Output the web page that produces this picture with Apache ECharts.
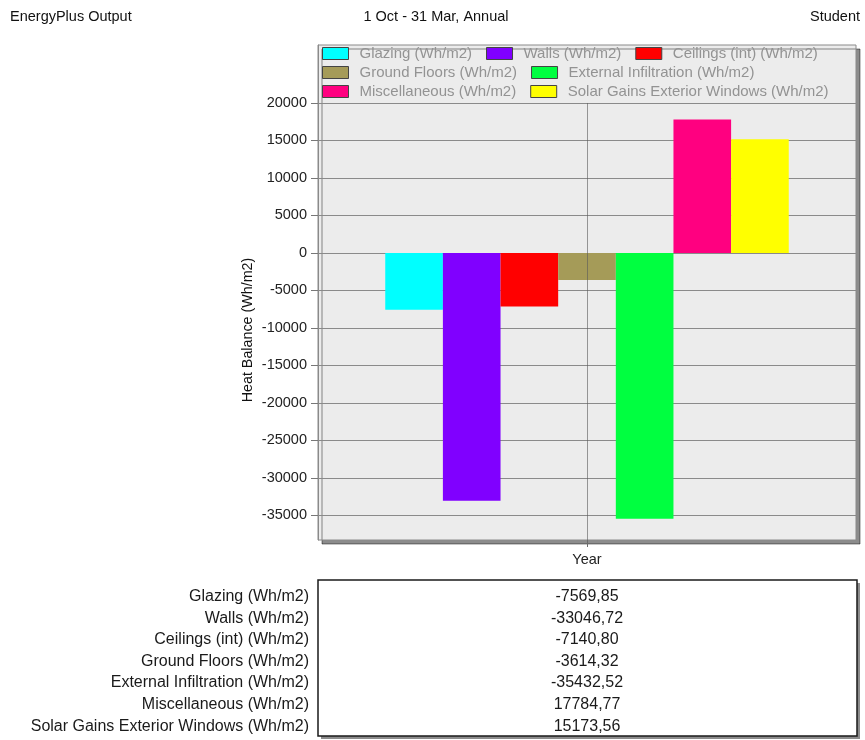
<!DOCTYPE html>
<html>
<head>
<meta charset="utf-8">
<script src="https://cdn.jsdelivr.net/npm/echarts@6/dist/echarts.min.js"></script>
<style>
  html, body { margin: 0; padding: 0; background: #ffffff; }
  #chart { width: 865px; height: 740px; }
</style>
</head>
<body>
<div id="chart"></div>
<script>
// Heat balance components, 1 Oct - 31 Mar
const categories = ['Year'];
const seriesNames = [
  'Glazing (Wh/m2)',
  'Walls (Wh/m2)',
  'Ceilings (int) (Wh/m2)',
  'Ground Floors (Wh/m2)',
  'External Infiltration (Wh/m2)',
  'Miscellaneous (Wh/m2)',
  'Solar Gains Exterior Windows (Wh/m2)'
];
const seriesValues = [-7569.85, -33046.72, -7140.80, -3614.32, -35432.52, 17784.77, 15173.56];
const seriesColors = ['#00ffff', '#8000ff', '#ff0000', '#a59b58', '#00ff40', '#ff0080', '#ffff00'];
const yTickValues = [20000, 15000, 10000, 5000, 0, -5000, -10000, -15000, -20000, -25000, -30000, -35000];
const legendRows = [[0, 1, 2], [3, 4], [5, 6]];

const FONT = '"Liberation Sans", Arial, sans-serif';
const Y_MIN = -38267;
const Y_MAX = 27733;

const chart = echarts.init(document.getElementById('chart'), null, { renderer: 'canvas' });

const fmt = v => v.toFixed(2).replace('.', ',');

const series = seriesNames.map((name, i) => ({
  name: name,
  type: 'bar',
  data: [seriesValues[i]],
  itemStyle: { color: seriesColors[i] },
  barGap: 0,
  barCategoryGap: '25%',
  emphasis: { disabled: true },
  z: 2
}));

// vertical guide through the category centre
series.push({
  name: 'guide',
  type: 'line',
  data: [],
  silent: true,
  z: 5,
  markLine: {
    silent: true,
    symbol: 'none',
    label: { show: false },
    lineStyle: { color: 'rgba(90,90,90,0.6)', type: 'solid', width: 1 },
    data: [[{ coord: [categories[0], yTickValues[0]] }, { coord: [categories[0], Y_MIN] }]]
  }
});

const legends = legendRows.map((row, r) => ({
  data: row.map(i => seriesNames[i]),
  left: 322,
  top: 46 + r * 19,
  padding: 0,
  orient: 'horizontal',
  icon: 'rect',
  itemWidth: 26,
  itemHeight: 12,
  itemGap: 14,
  selectedMode: false,
  itemStyle: { borderColor: '#444444', borderWidth: 1 },
  textStyle: { fontFamily: FONT, fontSize: 15, color: '#939393', padding: [0, 0, 0, 6] }
}));

// table of values below the chart
const tableGraphics = [
  {
    type: 'rect',
    shape: { x: 321, y: 583, width: 539, height: 156 },
    style: { fill: '#8c8c8c' },
    z: 9
  },
  {
    type: 'rect',
    shape: { x: 318, y: 580, width: 539, height: 156 },
    style: { fill: '#ffffff', stroke: '#1a1a1a', lineWidth: 1.5 },
    z: 10
  }
];
seriesNames.forEach((name, i) => {
  const y = 596.5 + i * 21.6;
  tableGraphics.push({
    type: 'text', x: 309, y: y, z: 11,
    style: { text: name, fontFamily: FONT, fontSize: 16, fill: '#1a1a1a', align: 'right', verticalAlign: 'middle' }
  });
  tableGraphics.push({
    type: 'text', x: 587, y: y, z: 11,
    style: { text: fmt(seriesValues[i]), fontFamily: FONT, fontSize: 16, fill: '#1a1a1a', align: 'center', verticalAlign: 'middle' }
  });
});

const headerGraphics = [
  { type: 'text', x: 10, y: 17, style: { text: 'EnergyPlus Output', fontFamily: FONT, fontSize: 14.5, fill: '#111', align: 'left', verticalAlign: 'middle' } },
  { type: 'text', x: 436, y: 17, style: { text: '1 Oct - 31 Mar, Annual', fontFamily: FONT, fontSize: 14.5, fill: '#111', align: 'center', verticalAlign: 'middle' } },
  { type: 'text', x: 860, y: 17, style: { text: 'Student', fontFamily: FONT, fontSize: 14.5, fill: '#111', align: 'right', verticalAlign: 'middle' } },
  { type: 'text', x: 248, y: 330, rotation: Math.PI / 2,
    style: { text: 'Heat Balance (Wh/m2)', fontFamily: FONT, fontSize: 14.3, fill: '#111', align: 'center', verticalAlign: 'middle' } }
];

const option = {
  animation: false,
  backgroundColor: '#ffffff',
  textStyle: { fontFamily: FONT },
  grid: {
    left: 318, top: 45, width: 538, height: 495,
    show: true,
    backgroundColor: '#ececec',
    borderColor: '#8a8a8a',
    borderWidth: 1,
    shadowColor: 'rgba(0,0,0,0.45)',
    shadowOffsetX: 4,
    shadowOffsetY: 4,
    shadowBlur: 0
  },
  legend: legends,
  xAxis: [
    {
      type: 'category',
      data: categories,
      axisLine: { show: true, lineStyle: { color: '#8a8a8a' } },
      axisTick: { show: false },
      axisLabel: { margin: 12, fontFamily: FONT, fontSize: 14.5, color: '#222' },
      splitLine: { show: false }
    },
    {
      // helper axis that only carries the tick under the category centre
      type: 'value',
      position: 'bottom',
      min: 0,
      max: 1,
      axisLine: { show: true, lineStyle: { color: 'rgba(0,0,0,0)' } },
      axisTick: { show: true, length: 7, customValues: [0.5], lineStyle: { color: '#6a6a6a' } },
      axisLabel: { show: false },
      splitLine: { show: false }
    }
  ],
  yAxis: {
    type: 'value',
    min: Y_MIN,
    max: Y_MAX,
    axisLine: { show: true, lineStyle: { color: '#8a8a8a' } },
    axisTick: { show: true, length: 7, customValues: yTickValues, lineStyle: { color: '#777' } },
    axisLabel: { customValues: yTickValues, margin: 11, fontFamily: FONT, fontSize: 14.5, color: '#222',
                 formatter: v => String(v) },
    splitLine: { show: true, lineStyle: { color: '#8a8a8a', width: 1 } }
  },
  graphic: headerGraphics.concat(tableGraphics),
  series: series
};

chart.setOption(option);
</script>
</body>
</html>
